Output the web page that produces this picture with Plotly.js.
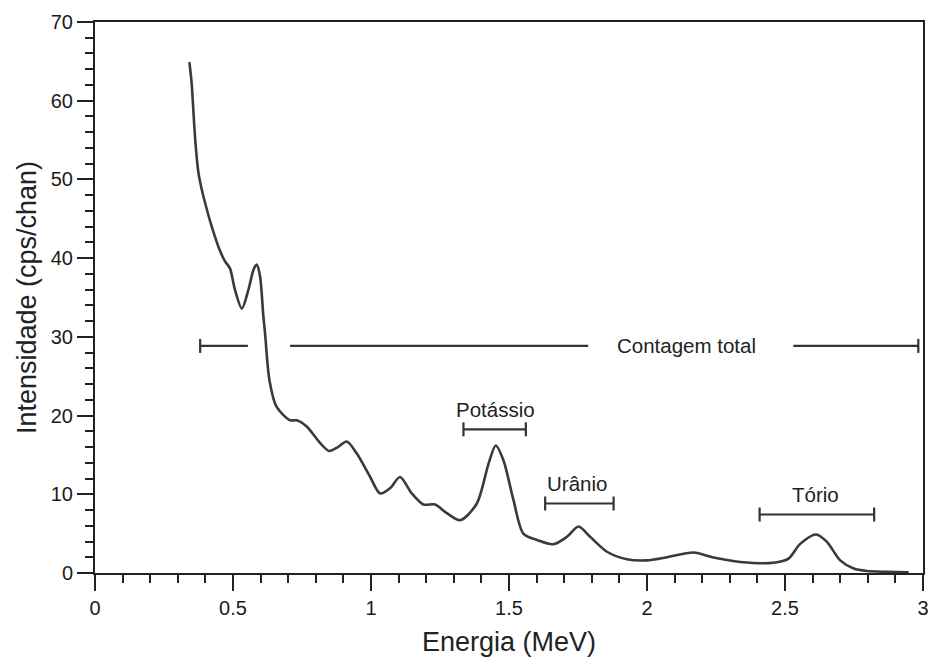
<!DOCTYPE html>
<html>
<head>
<meta charset="utf-8">
<script src="https://cdn.plot.ly/plotly-3.0.1.min.js"></script>
<style>html,body{margin:0;padding:0;background:#fff;}#chart{width:929px;height:666px;}</style>
</head>
<body>
<div id="chart"></div>
<script>
// Spectrum
const energy = [0.342,0.350,0.354,0.359,0.366,0.375,0.387,0.399,0.423,0.451,0.471,0.489,0.507,0.532,0.556,0.574,0.586,0.598,0.610,0.616,0.632,0.658,0.707,0.731,0.767,0.816,0.848,0.880,0.912,0.948,0.997,1.033,1.070,1.105,1.148,1.190,1.232,1.275,1.323,1.383,1.426,1.452,1.480,1.516,1.552,1.601,1.661,1.710,1.752,1.794,1.855,1.927,2.000,2.072,2.169,2.241,2.338,2.458,2.513,2.555,2.613,2.652,2.700,2.749,2.797,2.870,2.948];
const intensity = [64.9,62.3,60.2,57.2,53.8,50.8,48.7,47.0,44.0,41.1,39.6,38.7,36.0,33.6,36.0,38.5,39.2,37.7,32.6,30.5,24.5,21.1,19.4,19.4,18.6,16.5,15.5,16.0,16.7,15.2,12.2,10.1,10.8,12.2,10.1,8.7,8.7,7.6,6.7,8.8,13.9,16.2,14.3,9.3,5.0,4.2,3.65,4.6,5.9,4.6,2.7,1.74,1.6,2.0,2.6,1.96,1.4,1.3,1.83,3.7,4.9,3.95,1.6,0.56,0.25,0.15,0.1];

// Window bars
const windowNames = ["Potássio","Urânio","Tório"];
const windowStart = [1.335,1.631,2.408];
const windowEnd = [1.561,1.879,2.823];
const windowY = [18.25,8.83,7.43];
const windowLabelX = [1.450,1.746,2.610];
const windowLabelY = [20.8,11.4,10.0];

// Total count window (drawn in segments around the curve and label)
const totalName = "Contagem total";
const totalStart = 0.381;
const totalEnd = 2.983;
const totalY = 28.85;
const totalSegStart = [0.381,0.707,2.530];
const totalSegEnd = [0.554,1.787,2.983];
const totalLabelX = 2.144;

const xTickVals = [0,0.5,1,1.5,2,2.5,3];
const xTickText = ["0","0.5","1","1.5","2","2.5","3"];
const yTickVals = [0,10,20,30,40,50,60,70];

const barColor = '#333';
const shapes = [];
function hline(x0,x1,y){shapes.push({type:'line',xref:'x',yref:'y',x0:x0,x1:x1,y0:y,y1:y,line:{color:barColor,width:2.2}});}
function cap(x,y){shapes.push({type:'line',xref:'x',yref:'y',ysizemode:'pixel',yanchor:y,x0:x,x1:x,y0:-7,y1:7,line:{color:barColor,width:2.2}});}
for(let i=0;i<windowNames.length;i++){hline(windowStart[i],windowEnd[i],windowY[i]);cap(windowStart[i],windowY[i]);cap(windowEnd[i],windowY[i]);}
for(let i=0;i<totalSegStart.length;i++){hline(totalSegStart[i],totalSegEnd[i],totalY);}
cap(totalStart,totalY);cap(totalEnd,totalY);

const annotations = [];
const labelFont = {family:'Liberation Sans, Arial, sans-serif',size:20.5,color:'#222'};
for(let i=0;i<windowNames.length;i++){
  annotations.push({x:windowLabelX[i],y:windowLabelY[i],xref:'x',yref:'y',text:windowNames[i],showarrow:false,font:labelFont,xanchor:'center',yanchor:'middle'});
}
annotations.push({x:totalLabelX,y:totalY,xref:'x',yref:'y',text:totalName,showarrow:false,font:labelFont,xanchor:'center',yanchor:'middle'});

const axisCommon = {
  showgrid:false, zeroline:false, showline:true, linecolor:'#222', linewidth:2, mirror:true,
  ticks:'outside', ticklen:16, tickwidth:2, tickcolor:'#222',
  tickfont:{family:'Liberation Sans, Arial, sans-serif',size:20,color:'#1a1a1a'}
};

const layout = {
  width:929, height:666,
  margin:{l:95,r:6,t:22,b:93,pad:0},
  paper_bgcolor:'#fff', plot_bgcolor:'#fff',
  showlegend:false,
  xaxis:Object.assign({}, axisCommon, {
    range:[0,3], tickvals:xTickVals, ticktext:xTickText,
    minor:{dtick:0.1, ticks:'outside', ticklen:8, tickwidth:2, tickcolor:'#222', showgrid:false},
    title:{text:'Energia (MeV)', font:{family:'Liberation Sans, Arial, sans-serif',size:27,color:'#222'}, standoff:14}
  }),
  yaxis:Object.assign({}, axisCommon, {
    range:[0,70], tickvals:yTickVals,
    minor:{dtick:2, ticks:'outside', ticklen:8, tickwidth:2, tickcolor:'#222', showgrid:false},
    title:{text:'Intensidade (cps/chan)', font:{family:'Liberation Sans, Arial, sans-serif',size:27,color:'#222'}, standoff:6}
  }),
  shapes:shapes,
  annotations:annotations
};

const traces = [{
  x:energy, y:intensity, type:'scatter', mode:'lines',
  line:{color:'#3a3a3a', width:2.6, shape:'spline', smoothing:0.8},
  hoverinfo:'skip', cliponaxis:true
}];

Plotly.newPlot('chart', traces, layout, {displayModeBar:false, staticPlot:true});
</script>
</body>
</html>
